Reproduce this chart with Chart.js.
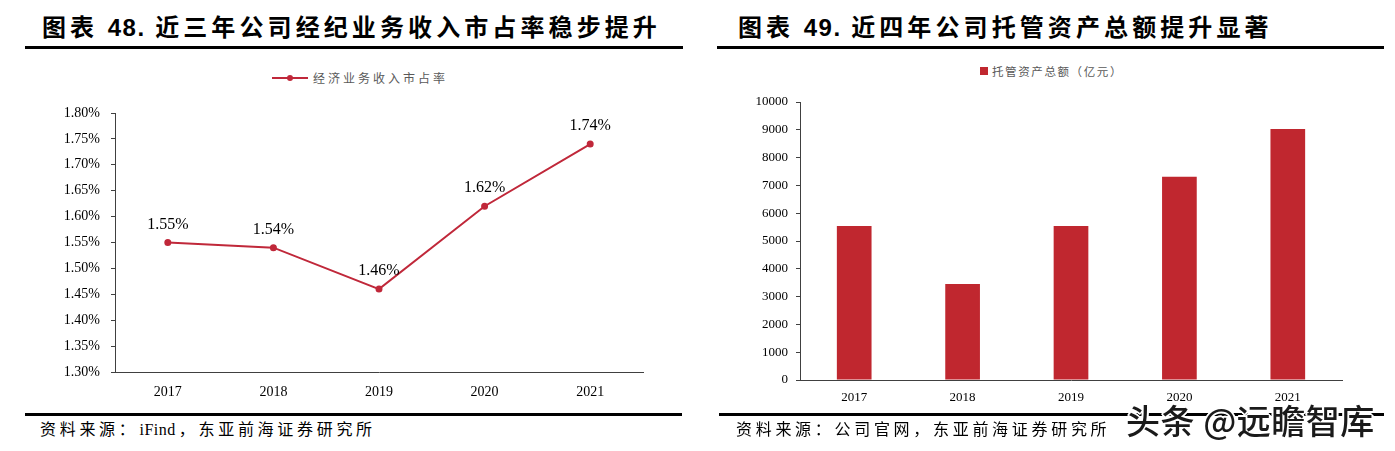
<!DOCTYPE html>
<html>
<head>
<meta charset="utf-8">
<script src="https://cdn.jsdelivr.net/npm/chart.js@4.4.1/dist/chart.umd.min.js"></script>
<style>
body{margin:0;background:#fff;}
#page{position:relative;width:1395px;height:451px;overflow:hidden;font-family:"Noto Sans CJK SC",sans-serif;}
.title{position:absolute;top:12px;font-size:24px;font-weight:700;letter-spacing:4.1px;line-height:28px;color:#000;white-space:nowrap;}
.title .num{font-family:"Liberation Sans",Arial,sans-serif;letter-spacing:1.5px;}
.rule{position:absolute;height:3px;background:#000;}
.source{position:absolute;top:420px;font-size:16px;letter-spacing:3.7px;line-height:20px;color:#000;white-space:nowrap;font-family:"Liberation Serif","Noto Sans CJK SC",serif;}
.source .latin{letter-spacing:0.5px;margin:0 3px 0 1px;}
.box{position:absolute;}
.legend{position:absolute;font-size:12px;color:#595959;white-space:nowrap;line-height:14px;}
.watermark{position:absolute;left:1126px;top:400px;font-size:34px;font-weight:500;line-height:40px;letter-spacing:0.5px;color:#1a1a1a;white-space:nowrap;
  text-shadow:2px 0 #fff,-2px 0 #fff,0 2px #fff,0 -2px #fff,1px 1px #fff,-1px -1px #fff,1px -1px #fff,-1px 1px #fff;}
</style>
</head>
<body>
<div id="page">
  <div class="title" style="left:42px;">图表 <span class="num">48.</span> 近三年公司经纪业务收入市占率稳步提升</div>
  <div class="rule" style="left:25px;top:46px;width:658px;"></div>
  <div class="title" style="left:738px;">图表 <span class="num">49.</span> 近四年公司托管资产总额提升显著</div>
  <div class="rule" style="left:717px;top:46px;width:667px;"></div>

  <div id="legendLeft" class="legend" style="left:272px;top:71px;letter-spacing:3px;"></div>
  <div id="legendRight" class="legend" style="left:980px;top:64px;font-size:11.5px;letter-spacing:1.6px;"></div>

  <div class="box" style="left:0;top:55px;width:700px;height:350px;"><canvas id="shareChart" width="700" height="350"></canvas></div>
  <div class="box" style="left:700px;top:55px;width:695px;height:350px;"><canvas id="assetChart" width="695" height="350"></canvas></div>

  <div class="rule" style="left:25px;top:413px;width:657px;height:2.5px;"></div>
  <div class="source" style="left:40px;">资料来源：<span class="latin">iFind</span>，东亚前海证券研究所</div>
  <div class="rule" style="left:719px;top:413px;width:665px;height:2.5px;"></div>
  <div class="source" style="left:736px;">资料来源：公司官网，东亚前海证券研究所</div>

  <div class="watermark">头条 @远瞻智库</div>
</div>

<script>
const years = ['2017', '2018', '2019', '2020', '2021'];

const shareLabel = '经济业务收入市占率';
const shareValues = [1.55, 1.54, 1.46, 1.62, 1.74];
const shareMin = 1.30;
const shareMax = 1.80;
const shareStep = 0.05;

const assetLabel = '托管资产总额（亿元）';
const assetValues = [5540, 3450, 5540, 7310, 9030];
const assetMin = 0;
const assetMax = 10000;
const assetStep = 1000;

const lineRed = '#C0283A';
const barRed = '#C0272F';
const axisGray = '#404040';
const serif = '"Liberation Serif", "Times New Roman", serif';

Chart.defaults.animation = false;
Chart.defaults.font.family = serif;
Chart.defaults.color = '#000';

// value labels above line points
const pointLabels = {
    id: 'pointLabels',
    afterDatasetsDraw(chart) {
        const ctx = chart.ctx;
        const ds = chart.data.datasets[0];
        ctx.save();
        ctx.font = '16px ' + serif;
        ctx.fillStyle = '#000';
        ctx.textAlign = 'center';
        ctx.textBaseline = 'middle';
        chart.getDatasetMeta(0).data.forEach((pt, i) => {
            ctx.fillText(ds.data[i].toFixed(2) + '%', pt.x, pt.y - 18);
        });
        ctx.restore();
    }
};

function buildLegends() {
    const left = document.getElementById('legendLeft');
    left.innerHTML =
        '<span style="position:absolute;left:0;top:6px;width:36px;height:2px;background:' + lineRed + ';"></span>' +
        '<span style="position:absolute;left:15px;top:4px;width:6px;height:6px;border-radius:50%;background:' + lineRed + ';"></span>' +
        '<span style="position:absolute;left:41px;top:0;">' + shareLabel + '</span>';

    const right = document.getElementById('legendRight');
    right.innerHTML =
        '<span style="position:absolute;left:0;top:3px;width:8px;height:8px;background:' + barRed + ';"></span>' +
        '<span style="position:absolute;left:12px;top:0;">' + assetLabel + '</span>';
}

function renderShareChart() {
    const ctx = document.getElementById('shareChart');
    new Chart(ctx, {
        type: 'line',
        data: {
            labels: years,
            datasets: [{
                label: shareLabel,
                data: shareValues,
                borderColor: lineRed,
                backgroundColor: lineRed,
                borderWidth: 2,
                pointRadius: 2.5,
                pointHoverRadius: 2.5,
                tension: 0
            }]
        },
        options: {
            responsive: false,
            layout: {padding: {left: 0, right: 57, top: 58, bottom: 0}},
            plugins: {legend: {display: false}, tooltip: {enabled: false}},
            scales: {
                x: {
                    offset: true,
                    grid: {display: false, drawTicks: false},
                    border: {display: true, color: axisGray, width: 1},
                    ticks: {font: {size: 14}, padding: 12, color: '#000'},
                    afterFit: s => { s.height = 33; }
                },
                y: {
                    min: shareMin,
                    max: shareMax,
                    grid: {display: true, drawOnChartArea: false, drawTicks: true, tickLength: 4, color: axisGray},
                    border: {display: true, color: axisGray, width: 1},
                    ticks: {
                        stepSize: shareStep,
                        font: {size: 14},
                        padding: 11,
                        color: '#000',
                        callback: v => Number(v).toFixed(2) + '%'
                    },
                    afterFit: s => { s.width = 115; }
                }
            }
        },
        plugins: [pointLabels]
    });
}

function renderAssetChart() {
    const ctx = document.getElementById('assetChart');
    new Chart(ctx, {
        type: 'bar',
        data: {
            labels: years,
            datasets: [{
                label: assetLabel,
                data: assetValues,
                backgroundColor: barRed,
                borderWidth: 0,
                barPercentage: 0.32,
                categoryPercentage: 1
            }]
        },
        options: {
            responsive: false,
            layout: {padding: {left: 0, right: 53, top: 47, bottom: 0}},
            plugins: {legend: {display: false}, tooltip: {enabled: false}},
            scales: {
                x: {
                    grid: {display: false, drawTicks: false},
                    border: {display: true, color: axisGray, width: 1},
                    ticks: {font: {size: 13}, padding: 10, color: '#000'},
                    afterFit: s => { s.height = 25; }
                },
                y: {
                    min: assetMin,
                    max: assetMax,
                    grid: {display: true, drawOnChartArea: false, drawTicks: true, tickLength: 4, color: axisGray},
                    border: {display: true, color: axisGray, width: 1},
                    ticks: {stepSize: assetStep, font: {size: 13}, padding: 8, color: '#000', callback: v => String(v)},
                    afterFit: s => { s.width = 100; }
                }
            }
        }
    });
}

buildLegends();
renderShareChart();
renderAssetChart();
</script>
</body>
</html>
